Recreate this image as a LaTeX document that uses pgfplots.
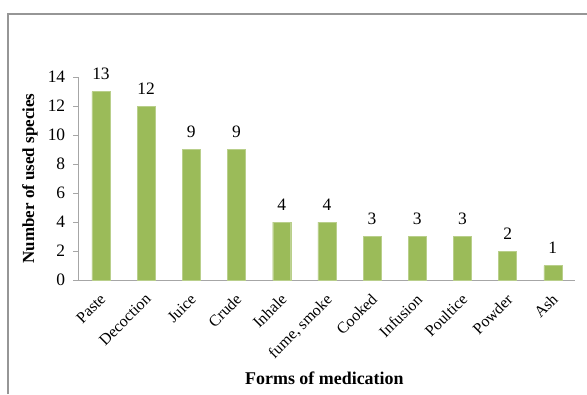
\documentclass[border=0pt]{standalone}
\usepackage{pgfplots}
\pgfplotsset{compat=1.18}
\usepackage{fontspec}
\setmainfont{Liberation Serif}
\definecolor{bargreen}{RGB}{155,187,89}
\definecolor{framegray}{RGB}{150,150,150}
\begin{document}
\begin{tikzpicture}[x=1bp,y=1bp]
\useasboundingbox (-78.4,-114) rectangle (508.6,280);
\draw[framegray,line width=1.2bp] (-70.4,-114) -- (-70.4,266) -- (508.6,266);
\begin{axis}[
  at={(0,0)}, anchor=south west,
  scale only axis,
  width=497bp, height=203bp,
  xmin=-0.5, xmax=10.5,
  ymin=0, ymax=14,
  ytick={0,2,...,14},
  xtick=data,
  xticklabels={Paste,Decoction,Juice,Crude,Inhale,{fume, smoke},Cooked,Infusion,Poultice,Powder,Ash},
  x tick label style={rotate=45, anchor=north east, font=\fontsize{16}{17}\selectfont, inner sep=1pt, yshift=-3bp, xshift=-5.7bp},
  y tick label style={font=\fontsize{17.5}{18}\selectfont, inner sep=2pt, xshift=-6bp},
  /pgf/number format/assume math mode=true,
  axis x line*=bottom,
  axis y line*=left,
  axis line style={draw=gray!70},
  major tick length=5bp,
  ytick style={draw=gray!70},
  tick align=outside,
  xtick style={draw=none},
  separate axis lines,
  xlabel={\textbf{Forms of medication}},
  ylabel={\textbf{Number of used species}},
  xlabel style={font=\fontsize{18}{19}\selectfont, at={(axis description cs:0.495,-0.483)}, anchor=center},
  ylabel style={font=\fontsize{17}{18}\selectfont, at={(axis description cs:-0.0974,0.5)}, anchor=center},
  nodes near coords,
  every node near coord/.append style={font=\fontsize{17.5}{18}\selectfont, text=black, yshift=8bp},
  nodes near coords style={/pgf/number format/assume math mode=true},
  clip=false,
]
\addplot[ybar, bar width=18bp, fill=bargreen, draw=bargreen!70!white] coordinates {
(0,13) (1,12) (2,9) (3,9) (4,4) (5,4) (6,3) (7,3) (8,3) (9,2) (10,1)};
\end{axis}
\end{tikzpicture}
\end{document}
